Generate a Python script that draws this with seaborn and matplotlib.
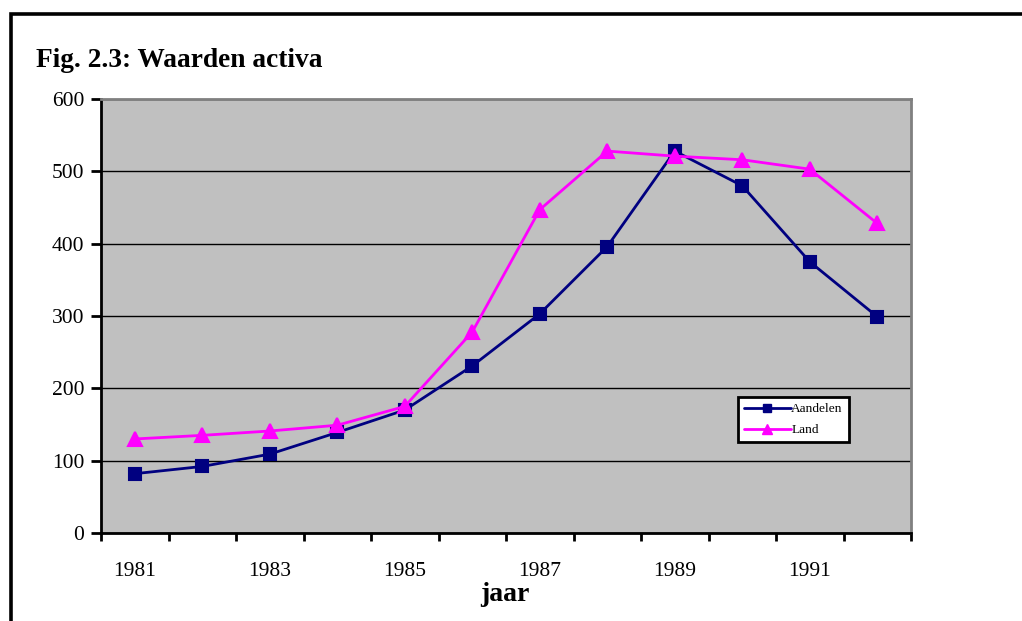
import matplotlib
matplotlib.use("Agg")
import matplotlib.pyplot as plt
import seaborn as sns
import pandas as pd
from matplotlib.patches import Rectangle
from matplotlib.lines import Line2D

years = list(range(1981, 1993))
aandelen = [82, 92, 109, 139, 170, 231, 303, 396, 528, 480, 375, 299]
land = [130, 135, 141, 149, 175, 278, 447, 528, 521, 516, 503, 428]
yticks = [0, 100, 200, 300, 400, 500, 600]
xlabels = [1981, 1983, 1985, 1987, 1989, 1991]

df = pd.DataFrame({
    "jaar": years * 2,
    "waarde": aandelen + land,
    "serie": ["Aandelen"] * len(years) + ["Land"] * len(years),
})

sns.set_style("white")
plt.rcParams["font.family"] = ["Liberation Serif", "DejaVu Serif"]
plt.rcParams["text.color"] = "black"
plt.rcParams["xtick.color"] = "black"
plt.rcParams["ytick.color"] = "black"
plt.rcParams["xtick.labelcolor"] = "black"
plt.rcParams["ytick.labelcolor"] = "black"

W, H = 1022, 621
fig = plt.figure(figsize=(W / 100, H / 100), dpi=100)
ax = fig.add_axes([101 / W, 1 - 533 / H, (911 - 101) / W, (533 - 99) / H])
ax.set_facecolor("#c0c0c0")

palette = {"Aandelen": "#000080", "Land": "#ff00ff"}
markers = {"Aandelen": "s", "Land": "^"}
sns.lineplot(data=df, x="jaar", y="waarde", hue="serie", style="serie",
             palette=palette, markers=markers, dashes=False, lw=2,
             markersize=9, markeredgewidth=1.5, ax=ax, legend=False, zorder=3)
for line in ax.lines:
    if line.get_marker() == "s":
        line.set_markerfacecolor("#000080")
        line.set_markeredgecolor("#000080")
    else:
        line.set_markerfacecolor("#ff00ff")
        line.set_markeredgecolor("#ff00ff")
        line.set_markersize(10)

ax.set_xlim(1980.5, 1992.5)
ax.set_ylim(0, 600)
ax.set_yticks(yticks)
ax.set_yticklabels([str(v) for v in yticks], fontsize=15.5, color="black")
ax.set_xticks([y - 0.5 for y in years] + [years[-1] + 0.5])
ax.set_xticklabels([])
ax.set_xticks(xlabels, minor=True)
ax.set_xticklabels([str(v) for v in xlabels], minor=True, fontsize=15.5, color="black")
ax.tick_params(axis="x", which="major", direction="out", length=6, width=2, color="black", bottom=True)
ax.tick_params(axis="x", which="minor", length=0, pad=21)
ax.tick_params(axis="y", direction="out", length=7, width=2, color="black", left=True, pad=5)
ax.yaxis.grid(True, color="black", lw=1)
ax.xaxis.grid(False)
ax.set_axisbelow(True)
for s in ["left", "bottom"]:
    ax.spines[s].set_color("black")
    ax.spines[s].set_linewidth(2)
for s in ["top", "right"]:
    ax.spines[s].set_color("#808080")
    ax.spines[s].set_linewidth(2)
ax.set_xlabel("")
ax.set_ylabel("")

handles = [
    Line2D([0], [0], color="#000080", lw=2, marker="s", markersize=6,
           markerfacecolor="#000080", markeredgecolor="#000080"),
    Line2D([0], [0], color="#ff00ff", lw=2, marker="^", markersize=7,
           markerfacecolor="#ff00ff", markeredgecolor="#ff00ff"),
]
leg = fig.legend(handles, ["Aandelen", "Land"], loc="upper left",
                 bbox_to_anchor=(738 / W, 1 - 397 / H), fontsize=9.6,
                 frameon=True, fancybox=False, framealpha=1, edgecolor="black",
                 handlelength=3.5, handletextpad=0.05, borderpad=0.45,
                 labelspacing=0.65, borderaxespad=0, labelcolor="black")
leg.get_frame().set_linewidth(2)

fig.text(36 / W, 1 - 67 / H, "Fig. 2.3: Waarden activa", fontsize=19.7,
         fontweight="bold", va="baseline", ha="left", color="black")
fig.text(505 / W, 1 - 601 / H, "jaar", fontsize=20, fontweight="bold",
         va="baseline", ha="center", color="black")

fig.add_artist(Rectangle((11 / W, -0.1), 1.2, 1.1 - 13.5 / H, transform=fig.transFigure,
                         fill=False, edgecolor="black", lw=2.6, clip_on=False))

fig.savefig("out.png", dpi=100)
